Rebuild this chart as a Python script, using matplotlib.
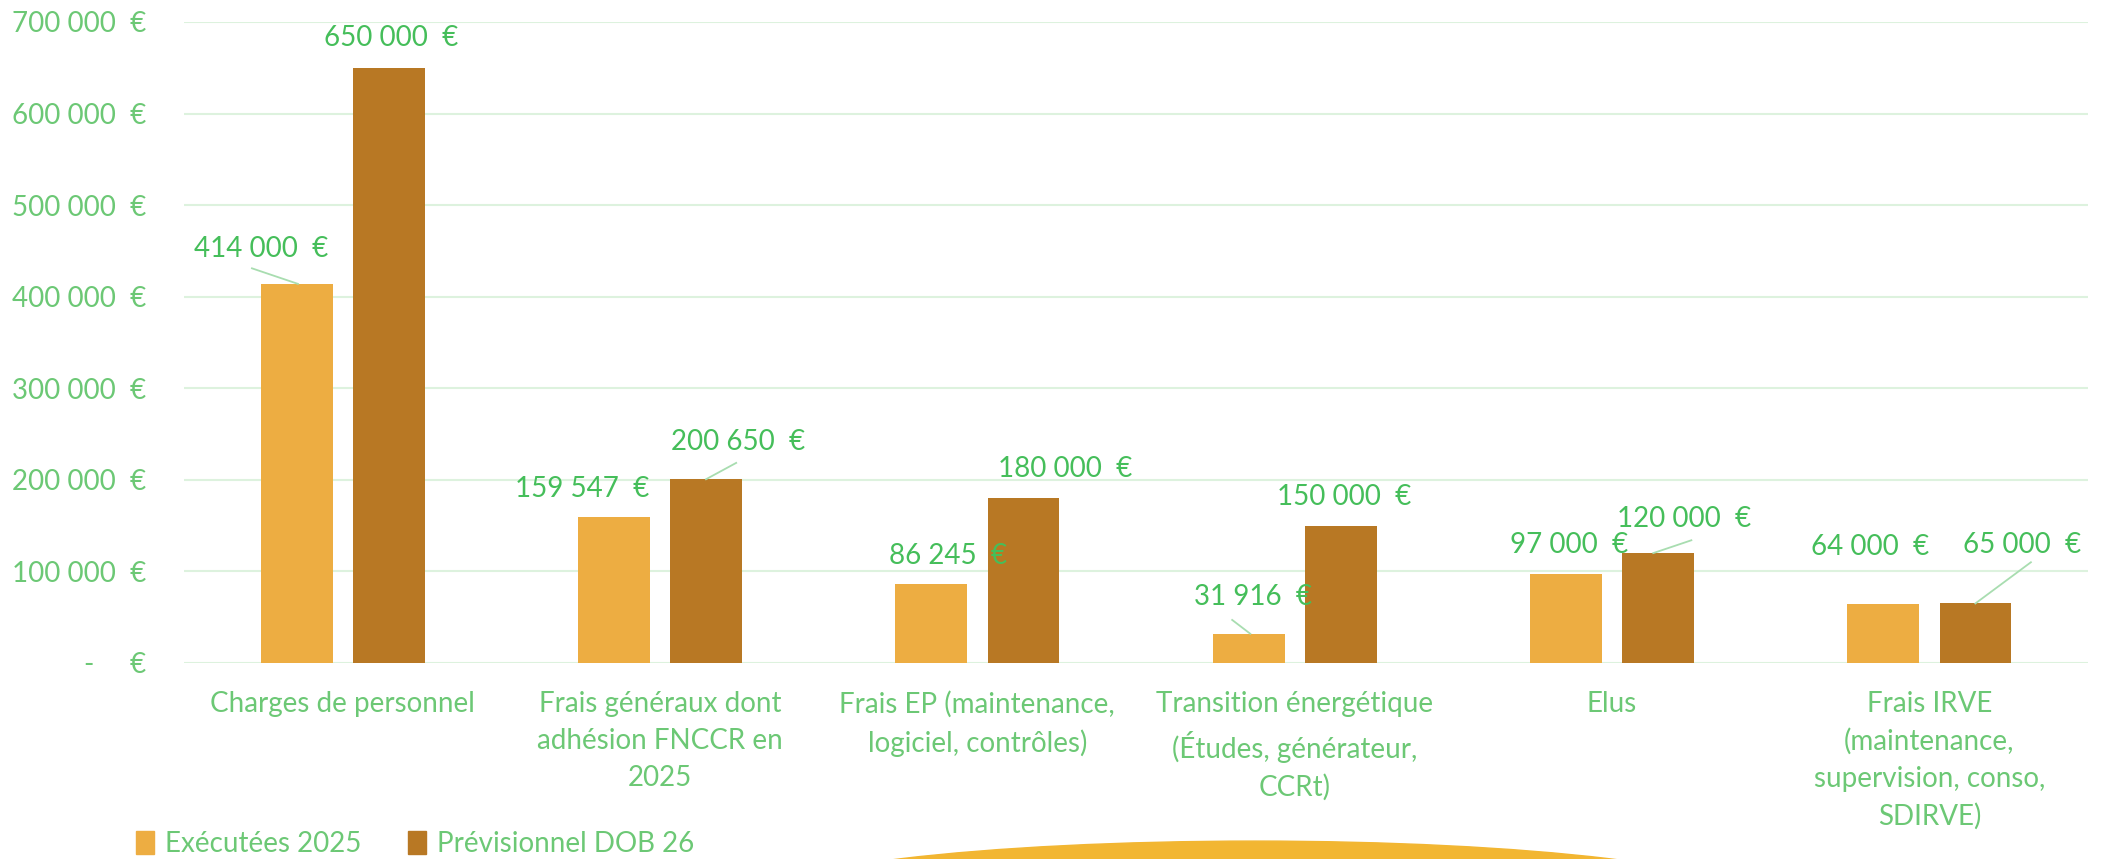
import matplotlib.pyplot as plt
from matplotlib.patches import Ellipse, Patch
import numpy as np

categories = ["Charges de personnel",
              "Frais généraux dont\nadhésion FNCCR en\n2025",
              "Frais EP (maintenance,\nlogiciel, contrôles)",
              "Transition énergétique\n(Études, générateur,\nCCRt)",
              "Elus",
              "Frais IRVE\n(maintenance,\nsupervision, conso,\nSDIRVE)"]
executees = [414000, 159547, 86245, 31916, 97000, 64000]
previsionnel = [650000, 200650, 180000, 150000, 120000, 65000]
series_names = ["Exécutées 2025", "Prévisionnel DOB 26"]
yticks = [0, 100000, 200000, 300000, 400000, 500000, 600000, 700000]

c_light = "#EDAD42"
c_dark = "#B87824"
c_tick = "#6CC875"
c_lab = "#45BE5A"
c_grid = "#DDF2DE"
c_lead = "#A8DDB0"

plt.rcParams['font.family'] = ['Lato', 'DejaVu Sans']

fig = plt.figure(figsize=(21.25, 8.59), dpi=100)
ax = fig.add_axes([0.0866, 0.2282, 0.896, 0.7462])

x = np.arange(len(categories))
w = 0.226
off = 0.145
ax.bar(x - off, executees, w, color=c_light, zorder=3)
ax.bar(x + off, previsionnel, w, color=c_dark, zorder=3)

ax.set_xlim(-0.5, 5.5)
ax.set_ylim(0, 700000)
ax.set_yticks(yticks)


def fmt(v):
    if v == 0:
        return "-     €"
    return f"{v:,.0f}".replace(",", " ") + "  €"


ax.set_yticklabels([fmt(v) for v in yticks], color=c_tick, fontsize=20)
ax.tick_params(axis='y', length=0, pad=27)
ax.set_xticks(x)
ax.set_xticklabels(categories, color=c_tick, fontsize=20, linespacing=1.52, va='top')
ax.tick_params(axis='x', length=0, pad=20)
ax.grid(axis='y', color=c_grid, linewidth=1.5, zorder=0)
for s in ax.spines.values():
    s.set_visible(False)

# label positions: x offset from group centre, y in data units
lab1 = [(-0.257, 452000), (-0.245, 190000), (-0.092, 117000),
        (-0.131, 72500), (-0.136, 129000), (-0.188, 127000)]
lab2 = [(0.153, 682000), (0.247, 241000), (0.276, 212000),
        (0.155, 181000), (0.227, 157000), (0.291, 129000)]

for i in range(len(categories)):
    for vals, labs in ((executees, lab1), (previsionnel, lab2)):
        dx, ly = labs[i]
        txt = f"{vals[i]:,.0f}".replace(",", " ") + "  €"
        ax.text(i + dx, ly, txt, color=c_lab, fontsize=20, ha='center', va='center', zorder=5)

# leader lines
ax.plot([-0.286, -0.141], [431000, executees[0]], color=c_lead, lw=1.3, zorder=4)
ax.plot([3 - 0.197, 3 - 0.14], [47000, executees[3]], color=c_lead, lw=1.3, zorder=4)
ax.plot([1 + 0.24, 1 + 0.145], [218500, previsionnel[1]], color=c_lead, lw=1.3, zorder=4)
ax.plot([4 + 0.25, 4 + 0.13], [134000, previsionnel[4]], color=c_lead, lw=1.3, zorder=4)
ax.plot([5 + 0.32, 5 + 0.145], [110000, previsionnel[5]], color=c_lead, lw=1.3, zorder=4)

handles = [Patch(color=c_light), Patch(color=c_dark)]
fig.legend(handles, series_names, loc='center left', bbox_to_anchor=(0.0523, 0.0175),
           ncol=2, frameon=False, fontsize=20, labelcolor=c_tick,
           handlelength=0.65, handleheight=0.9, handletextpad=0.4, columnspacing=1.65)

fig.patches.append(Ellipse((0.5906, -0.049), 0.4706, 0.1397, transform=fig.transFigure,
                           color="#F2B632", zorder=0))

fig.savefig("out.png", dpi=100)
